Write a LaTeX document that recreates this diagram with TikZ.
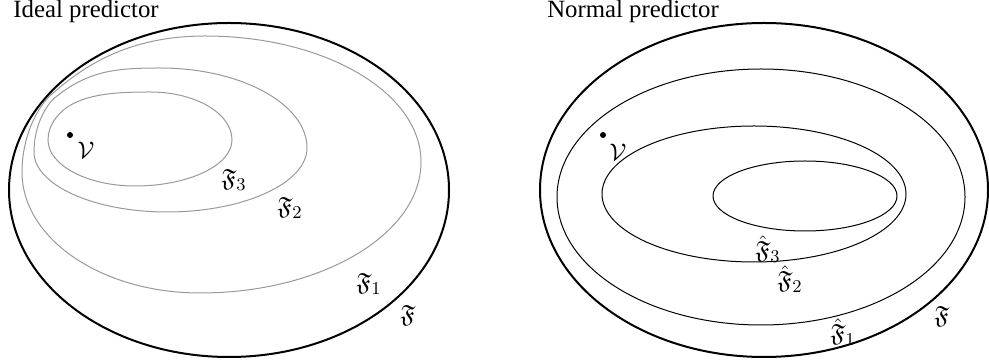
\documentclass[tikz,border=0pt]{standalone}
\usepackage{amssymb}
\usepackage{fontspec}
\setmainfont{Liberation Serif}
\usetikzlibrary{positioning}

\begin{document}
\begin{tikzpicture}[
  x=0.5pt, y=-0.5pt,
  font=\fontsize{12.4}{14}\selectfont,
  outer/.style={draw, line width=1pt},
  inner/.style={draw, line width=0.5pt},
  soft/.style={inner, gray!80},
  lbl/.style={inner sep=0pt, anchor=center},
  pt/.style={fill, circle, inner sep=0pt, minimum size=3pt}
]
\useasboundingbox (0,0) rectangle (989,362);

% left panel: ideal predictor (inner sets pinched to the upper left)
\node[lbl] (tl) at (86,12) {Ideal predictor};
\draw[outer] (229,190) ellipse (220 and 167);
\draw[soft] (205,36) .. controls (324,36) and (421,92) .. (421,162)
  .. controls (421,234) and (322,293) .. (200,293)
  .. controls (102,293) and (22,239) .. (22,172)
  .. controls (22,137) and (37,107) .. (52,94)
  .. controls (89,61) and (135,36) .. cycle;
\draw[soft] (160,68) .. controls (241,68) and (307,104) .. (307,148)
  .. controls (307,183) and (244,212) .. (167,212)
  .. controls (94,212) and (34,185) .. (34,152)
  .. controls (34,127) and (45,105) .. (57,96)
  .. controls (89,71) and (115,68) .. cycle;
\draw[soft] (150,92) .. controls (195,92) and (232,113) .. (232,140)
  .. controls (232,165) and (189,186) .. (135,186)
  .. controls (87,186) and (48,165) .. (48,140)
  .. controls (48,125) and (58,114) .. (66,108)
  .. controls (86,94) and (115,92) .. cycle;
\node[pt] (vl) at (70,135) {};
\node[lbl] (vlt) at (86,150) {$\mathcal{V}$};
\node[lbl] (f3) at (234,180) {$\mathfrak{F}_3$};
\node[lbl] (f2) at (290,208) {$\mathfrak{F}_2$};
\node[lbl] (f1) at (369,284) {$\mathfrak{F}_1$};
\node[lbl] (f0) at (408,315) {$\mathfrak{F}$};

% right panel: normal predictor
\node[lbl] (tr) at (633,12) {Normal predictor};
\draw[outer] (764,190) ellipse (224 and 167);
\draw[inner] (761,197) ellipse (204 and 128);
\draw[inner] (754,194) ellipse (152 and 68);
\draw[inner] (805,196) ellipse (92 and 35);
\node[pt] (vr) at (603,135) {};
\node[lbl] (vrt) at (618,152) {$\mathcal{V}$};
\node[lbl] (h3) at (768,249) {$\hat{\mathfrak{F}}_3$};
\node[lbl] (h2) at (790,279) {$\hat{\mathfrak{F}}_2$};
\node[lbl] (h1) at (843,332) {$\hat{\mathfrak{F}}_1$};
\node[lbl] (g0) at (942,316) {$\mathfrak{F}$};
\end{tikzpicture}
\end{document}
